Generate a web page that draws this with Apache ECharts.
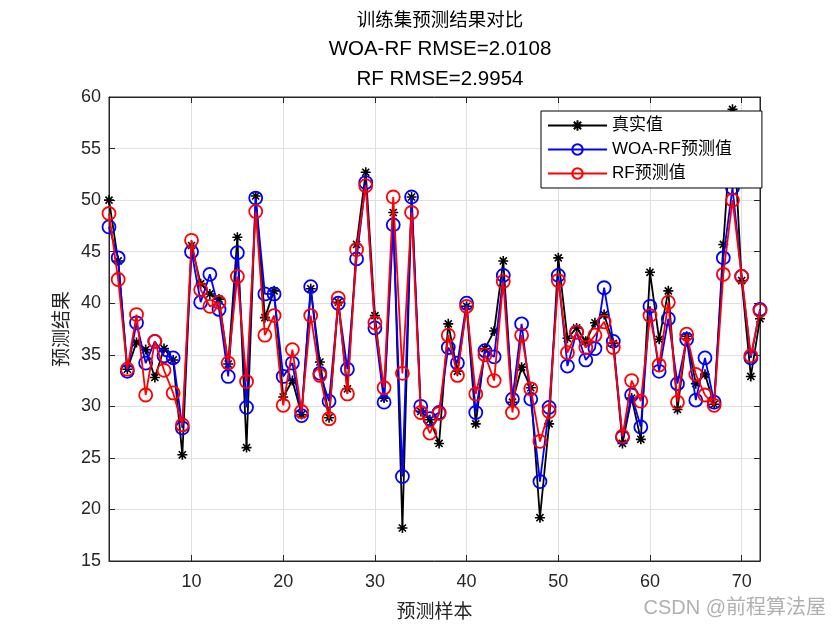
<!DOCTYPE html>
<html>
<head>
<meta charset="utf-8">
<script src="https://cdn.jsdelivr.net/npm/echarts@6/dist/echarts.min.js"></script>
<style>html,body{margin:0;padding:0;background:#fff;}#c{width:840px;height:630px;}</style>
</head>
<body>
<div id="c"></div>
<script>
var xTicks = [10, 20, 30, 40, 50, 60, 70];
var realVals = [50.0,44.1,33.6,36.2,35.5,32.8,35.6,34.5,25.3,45.6,
  41.9,40.9,40.4,34.1,46.4,26.0,50.4,38.6,41.2,30.9,
  32.5,29.2,41.4,34.3,28.9,40.1,31.7,45.7,52.7,38.8,
  30.8,48.8,18.2,50.3,29.5,28.7,26.4,38.0,33.4,39.7,
  28.3,35.6,37.3,44.1,30.4,33.8,31.8,19.2,28.3,44.4,
  36.6,37.6,36.3,38.1,38.9,36.1,26.4,30.8,26.8,43.0,
  36.5,41.2,29.7,36.8,32.2,33.1,30.2,45.7,58.8,42.2,
  32.9,38.5];
var woaVals = [47.4,44.4,33.4,38.1,34.2,36.3,34.9,34.7,27.9,45.0,
  40.1,42.8,39.4,32.9,44.9,29.9,50.2,40.9,40.9,32.9,
  34.2,29.1,41.6,33.2,30.5,40.0,33.6,44.3,51.7,37.6,
  30.4,47.6,23.2,50.3,30.0,28.8,29.4,35.7,34.2,40.0,
  29.4,35.4,34.8,42.7,30.7,38.0,30.7,22.7,29.9,42.7,
  33.9,37.2,34.5,35.6,41.5,36.3,27.0,31.1,28.0,39.7,
  33.4,38.5,32.2,36.5,30.6,34.7,30.4,44.4,51.2,42.6,
  34.7,39.4];
var rfVals = [48.7,42.3,33.6,38.9,31.1,36.3,33.5,31.3,28.2,46.1,
  41.3,39.7,40.1,34.2,42.6,32.4,48.9,36.9,38.8,30.1,
  35.5,29.5,38.8,33.0,28.8,40.5,31.2,45.2,51.4,38.1,
  31.8,50.3,33.2,48.8,29.4,27.4,29.3,36.9,33.0,39.7,
  31.2,35.0,32.5,42.1,29.4,36.9,31.7,26.6,29.5,42.2,
  35.2,37.2,35.7,36.9,38.2,35.7,27.1,32.5,30.5,38.8,
  34.0,40.1,30.4,37.0,33.1,31.1,30.1,42.8,50.0,42.6,
  34.9,39.3];
var seriesNames = ['真实值', 'WOA-RF预测值', 'RF预测值'];
var titleLines = ['训练集预测结果对比', 'WOA-RF RMSE=2.0108', 'RF RMSE=2.9954'];

function pairs(arr) { return arr.map(function (v, i) { return [i + 1, v]; }); }

var star = 'path://M0,-10L0,10M-10,0L10,0M-7.07,-7.07L7.07,7.07M-7.07,7.07L7.07,-7.07';
var fontLat = '"Liberation Sans", Arial, "Noto Sans CJK SC", sans-serif';
var fontCJK = '"Noto Sans CJK SC", "Liberation Sans", sans-serif';
var axisCol = '#262626';

var chart = echarts.init(document.getElementById('c'), null, {renderer: 'canvas'});
chart.setOption({
  animation: false,
  backgroundColor: '#fff',
  title: {
    text: '{a|' + titleLines[0] + '}\n{b|' + titleLines[1] + '}\n{b|' + titleLines[2] + '}',
    left: 435, textAlign: 'center', top: -1,
    textStyle: {
      fontWeight: 'normal', color: '#000',
      rich: {
        a: {fontSize: 18.5, lineHeight: 30, color: '#000', fontFamily: fontCJK},
        b: {fontSize: 20.5, lineHeight: 30, color: '#000', fontFamily: fontLat}
      }
    }
  },
  grid: {left: 109, right: 80, top: 97, bottom: 69, show: true, borderColor: axisCol, borderWidth: 1, backgroundColor: '#fff'},
  legend: {
    orient: 'vertical', left: 541, top: 111,
    backgroundColor: '#fff', borderColor: '#000', borderWidth: 1,
    padding: [6, 30, 6, 6], itemGap: 7, itemWidth: 59, itemHeight: 13,
    textStyle: {fontSize: 17, color: '#000', fontFamily: fontLat},
    data: seriesNames
  },
  xAxis: [{
    type: 'value', min: 1, max: 72,
    name: '预测样本', nameLocation: 'middle', nameGap: 40,
    nameTextStyle: {fontSize: 19, color: axisCol, fontFamily: fontCJK},
    axisLine: {show: true, lineStyle: {color: axisCol}},
    axisTick: {show: true, inside: true, length: 6, customValues: xTicks, lineStyle: {color: axisCol}},
    axisLabel: {customValues: xTicks, fontSize: 18, color: axisCol, margin: 12, fontFamily: fontLat},
    splitLine: {show: true, lineStyle: {color: '#dfdfdf', width: 1}}
  }, {
    type: 'value', min: 1, max: 72, position: 'top',
    axisLine: {show: true, lineStyle: {color: axisCol}},
    axisTick: {show: true, inside: true, length: 6, customValues: xTicks, lineStyle: {color: axisCol}},
    axisLabel: {show: false}, splitLine: {show: false}
  }],
  yAxis: [{
    type: 'value', min: 15, max: 60, interval: 5,
    name: '预测结果', nameLocation: 'middle', nameGap: 35, nameRotate: 90,
    nameTextStyle: {fontSize: 19, color: axisCol, fontFamily: fontCJK},
    axisLine: {show: true, lineStyle: {color: axisCol}},
    axisTick: {show: true, inside: true, length: 6, lineStyle: {color: axisCol}},
    axisLabel: {fontSize: 18, color: axisCol, margin: 8, fontFamily: fontLat},
    splitLine: {show: true, lineStyle: {color: '#dfdfdf', width: 1}}
  }, {
    type: 'value', min: 15, max: 60, interval: 5, position: 'right',
    axisLine: {show: true, lineStyle: {color: axisCol}},
    axisTick: {show: true, inside: true, length: 6, lineStyle: {color: axisCol}},
    axisLabel: {show: false}, splitLine: {show: false}
  }],
  series: [{
    name: seriesNames[0], type: 'line', data: pairs(realVals),
    symbol: star, symbolSize: 10, showAllSymbol: true,
    lineStyle: {color: '#000', width: 1.8},
    itemStyle: {color: '#000', borderColor: '#000', borderWidth: 1.6},
    z: 2
  }, {
    name: seriesNames[1], type: 'line', data: pairs(woaVals),
    symbol: 'circle', symbolSize: 13, showAllSymbol: true,
    lineStyle: {color: '#0000ff', width: 1.8},
    itemStyle: {color: 'rgba(0,0,0,0)', borderColor: '#0000ff', borderWidth: 1.8},
    z: 3
  }, {
    name: seriesNames[2], type: 'line', data: pairs(rfVals),
    symbol: 'circle', symbolSize: 13, showAllSymbol: true,
    lineStyle: {color: '#ff0000', width: 1.8},
    itemStyle: {color: 'rgba(0,0,0,0)', borderColor: '#ff0000', borderWidth: 1.8},
    z: 4
  }],
  graphic: [{
    type: 'text', right: 14, top: 598,
    style: {text: 'CSDN @前程算法屋', fontSize: 20, fill: '#b0b0b0', fontFamily: fontLat}
  }]
});
</script>
</body>
</html>
